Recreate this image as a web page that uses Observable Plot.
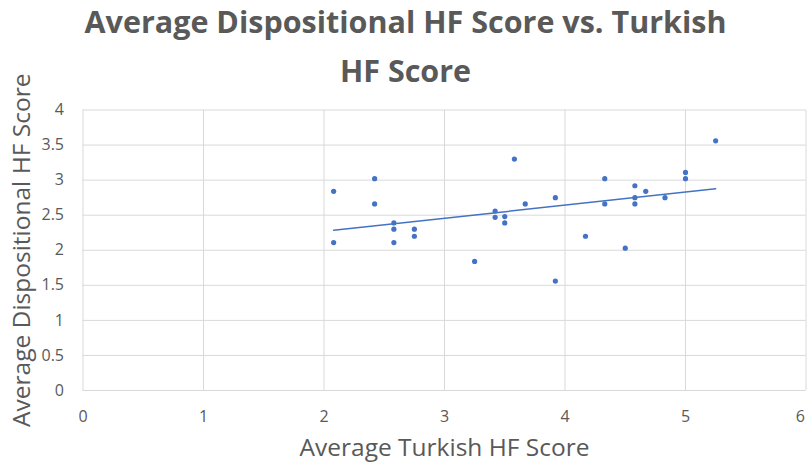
<!DOCTYPE html>
<html>
<head>
<meta charset="utf-8">
<script src="https://cdn.jsdelivr.net/npm/d3@7"></script>
<script src="https://cdn.jsdelivr.net/npm/@observablehq/plot@0.6"></script>
<style>
  html, body { margin: 0; padding: 0; background: #fff; }
</style>
</head>
<body>
<div id="chart"></div>
<script>
const titleLines = ["Average Dispositional HF Score vs. Turkish", "HF Score"];
const xLabel = "Average Turkish HF Score";
const yLabel = "Average Dispositional HF Score";
const xTicks = [0, 1, 2, 3, 4, 5, 6];
const yTicks = [0, 0.5, 1, 1.5, 2, 2.5, 3, 3.5, 4];
const turkish = [2.08, 2.08, 2.42, 2.42, 2.58, 2.58, 2.58, 2.75, 2.75, 3.25, 3.42, 3.42, 3.5, 3.5, 3.58, 3.67, 3.92, 3.92, 4.17, 4.33, 4.33, 4.5, 4.58, 4.58, 4.58, 4.67, 4.83, 5.0, 5.0, 5.25];
const dispositional = [2.84, 2.11, 3.02, 2.66, 2.39, 2.30, 2.11, 2.30, 2.20, 1.84, 2.56, 2.47, 2.48, 2.39, 3.30, 2.66, 2.75, 1.56, 2.20, 3.02, 2.66, 2.03, 2.92, 2.75, 2.66, 2.84, 2.75, 3.11, 3.02, 3.56];

const data = turkish.map((x, i) => ({x, y: dispositional[i]}));
const grey = "#595959";
const blue = "#4472C4";
const lastTick = xTicks[xTicks.length - 1];

const chart = Plot.plot({
  width: 809,
  height: 468,
  marginLeft: 82.5,
  marginRight: 3.5,
  marginTop: 109.5,
  marginBottom: 78,
  style: {fontFamily: "'Open Sans', sans-serif", color: grey, background: "#fff"},
  x: {domain: [0, 6]},
  y: {domain: [0, 4]},
  marks: [
    Plot.gridX(xTicks, {stroke: "#d9d9d9", strokeOpacity: 1}),
    Plot.gridY(yTicks, {stroke: "#d9d9d9", strokeOpacity: 1}),
    Plot.axisX(xTicks.filter(d => d !== lastTick), {tickSize: 0, tickPadding: 20, fontSize: 16, label: null, fill: grey, tickFormat: d => String(d)}),
    Plot.axisX([lastTick], {tickSize: 0, tickPadding: 20, fontSize: 16, label: null, fill: grey, dx: -1, textAnchor: "end", tickFormat: d => String(d)}),
    Plot.axisY(yTicks, {tickSize: 0, tickPadding: 19, fontSize: 16, label: null, fill: grey, tickFormat: d => String(d)}),
    Plot.linearRegressionY(data, {x: "x", y: "y", ci: 0, stroke: blue, strokeWidth: 1.5}),
    Plot.dot(data, {x: "x", y: "y", r: 2.6, fill: blue, stroke: null}),
    Plot.text([titleLines[0]], {frameAnchor: "top", dx: -39, dy: -99, fontSize: 30.5, fontWeight: "bold", fill: grey}),
    Plot.text([titleLines[1]], {frameAnchor: "top", dx: -39, dy: -50, fontSize: 30.5, fontWeight: "bold", fill: grey}),
    Plot.text([xLabel], {frameAnchor: "bottom", dy: 65, fontSize: 24.5, fill: grey}),
    Plot.text([yLabel], {frameAnchor: "left", textAnchor: "middle", rotate: -90, dx: -60.5, fontSize: 24.5, fill: grey})
  ]
});
document.getElementById("chart").appendChild(chart);
</script>
</body>
</html>
